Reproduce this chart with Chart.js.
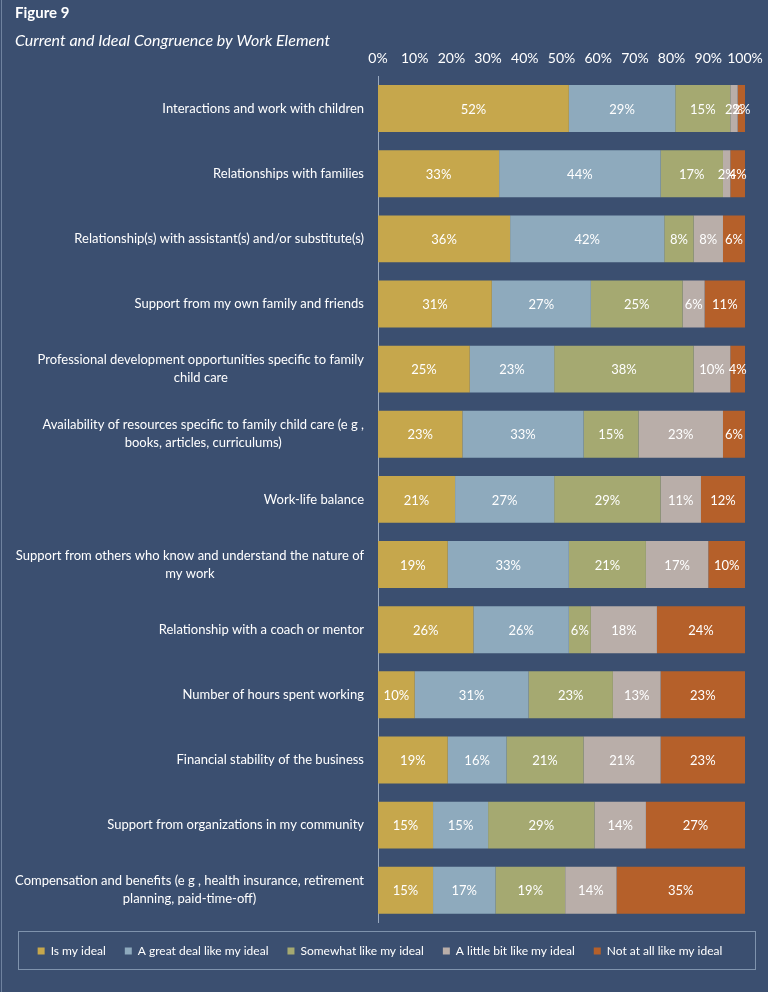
<!DOCTYPE html>
<html>
<head>
<meta charset="utf-8">
<script src="https://cdn.jsdelivr.net/npm/chart.js@4.4.1/dist/chart.umd.min.js"></script>
<style>
  body { margin: 0; background: #3b4f70; }
  canvas { display: block; }
</style>
</head>
<body>
<canvas id="myChart" width="768" height="992"></canvas>
<script>
const categories = [
    ["Interactions and work with children"],
    ["Relationships with families"],
    ["Relationship(s) with assistant(s) and/or substitute(s)"],
    ["Support from my own family and friends"],
    ["Professional development opportunities specific to family", "child care"],
    ["Availability of resources specific to family child care (e g ,", "books, articles, curriculums)"],
    ["Work-life balance"],
    ["Support from others who know and understand the nature of", "my work"],
    ["Relationship with a coach or mentor"],
    ["Number of hours spent working"],
    ["Financial stability of the business"],
    ["Support from organizations in my community"],
    ["Compensation and benefits (e g , health insurance, retirement", "planning, paid-time-off)"]
];

const isMyIdeal = [52, 33, 36, 31, 25, 23, 21, 19, 26, 10, 19, 15, 15];
const greatDeal = [29, 44, 42, 27, 23, 33, 27, 33, 26, 31, 16, 15, 17];
const somewhat = [15, 17, 8, 25, 38, 15, 29, 21, 6, 23, 21, 29, 19];
const littleBit = [2, 2, 8, 6, 10, 23, 11, 17, 18, 13, 21, 14, 14];
const notAtAll = [2, 4, 6, 11, 4, 6, 12, 10, 24, 23, 23, 27, 35];

const seriesNames = ["Is my ideal", "A great deal like my ideal", "Somewhat like my ideal",
    "A little bit like my ideal", "Not at all like my ideal"];
const seriesColors = ["#c6a74c", "#8eaabd", "#a5a971", "#b9aea9", "#b5602a"];

const xTicks = [0, 10, 20, 30, 40, 50, 60, 70, 80, 90, 100];

const textFont = "Lato, 'Open Sans', sans-serif";

// draws the % values inside each segment
const barLabels = {
    id: "barLabels",
    afterDatasetsDraw(chart) {
        const ctx = chart.ctx;
        ctx.save();
        ctx.font = "13px " + textFont;
        ctx.fillStyle = "#ffffff";
        ctx.textAlign = "center";
        ctx.textBaseline = "middle";
        chart.data.datasets.forEach((ds, i) => {
            const meta = chart.getDatasetMeta(i);
            meta.data.forEach((bar, j) => {
                const cx = (bar.x + bar.base) / 2;
                ctx.fillText(ds.data[j] + "%", cx, bar.y + 1);
            });
        });
        ctx.restore();
    }
};

// category labels: block right aligned, lines centred inside the block
const catLabels = {
    id: "catLabels",
    afterDraw(chart) {
        const ctx = chart.ctx;
        const y = chart.scales.y;
        const right = chart.chartArea.left - 14;
        ctx.save();
        ctx.font = "13px " + textFont;
        ctx.fillStyle = "#ffffff";
        ctx.textAlign = "center";
        ctx.textBaseline = "middle";
        categories.forEach((lines, i) => {
            const widths = lines.map(l => ctx.measureText(l).width);
            const w = Math.max(...widths);
            const cx = right - w / 2;
            const cy = y.getPixelForValue(i);
            const lh = 18;
            lines.forEach((l, k) => {
                ctx.fillText(l, cx, cy + (k - (lines.length - 1) / 2) * lh);
            });
        });

        // legend frame
        const hb = chart.legend.legendHitBoxes;
        if (hb && hb.length) {
            const mid = hb[0].top + hb[0].height / 2;
            ctx.strokeStyle = "#7f93ad";
            ctx.lineWidth = 1;
            ctx.strokeRect(18.5, Math.round(mid) - 19.5, 737, 38);
        }
        // thin outer edge on the left
        ctx.strokeStyle = "#6f829f";
        ctx.beginPath();
        ctx.moveTo(1.5, 0);
        ctx.lineTo(1.5, chart.height);
        ctx.stroke();
        ctx.restore();
    }
};

const bgPlugin = {
    id: "bg",
    beforeDraw(chart) {
        const ctx = chart.ctx;
        ctx.save();
        ctx.fillStyle = "#3b4f70";
        ctx.fillRect(0, 0, chart.width, chart.height);
        ctx.restore();
    }
};

const values = [isMyIdeal, greatDeal, somewhat, littleBit, notAtAll];

new Chart("myChart", {
    type: "bar",
    data: {
        labels: categories.map(c => c.join(" ")),
        datasets: values.map((v, i) => ({
            label: seriesNames[i],
            data: v,
            backgroundColor: seriesColors[i],
            borderWidth: 0,
            barPercentage: 0.72,
            categoryPercentage: 1
        }))
    },
    options: {
        indexAxis: "y",
        responsive: false,
        animation: false,
        layout: {padding: {left: 15, right: 23, top: 4, bottom: 25}},
        scales: {
            x: {
                position: "top",
                stacked: true,
                min: 0,
                max: 100,
                afterBuildTicks: scale => { scale.ticks = xTicks.map(v => ({value: v})); },
                afterFit: scale => {
                    scale.paddingLeft = 0;
                    scale.paddingRight = 0;
                    scale.height -= 9;
                },
                ticks: {
                    color: "#ffffff",
                    font: {family: textFont, size: 14},
                    padding: 9,
                    maxRotation: 0,
                    minRotation: 0,
                    autoSkip: false,
                    callback: v => v + "%"
                },
                grid: {display: false, drawTicks: false},
                border: {display: false}
            },
            y: {
                stacked: true,
                ticks: {display: false},
                grid: {display: false, drawTicks: false},
                border: {display: true, color: "#9aaac0", width: 1},
                afterFit: scale => { scale.width = 363; }
            }
        },
        plugins: {
            title: {
                display: true,
                text: "Figure 9",
                align: "start",
                color: "#ffffff",
                font: {family: textFont, size: 15, weight: "bold"},
                padding: {top: 0, bottom: 9}
            },
            subtitle: {
                display: true,
                text: "Current and Ideal Congruence by Work Element",
                align: "start",
                color: "#ffffff",
                font: {family: textFont, size: 16, style: "italic"},
                padding: {top: 0, bottom: 0}
            },
            legend: {
                position: "bottom",
                // empty title only used as a small gap above the legend row
                title: {display: true, text: "", font: {size: 1}, padding: {top: 2, bottom: 0}},
                labels: {
                    color: "#ffffff",
                    font: {family: textFont, size: 12},
                    boxWidth: 7,
                    boxHeight: 7,
                    padding: 19
                }
            },
            tooltip: {enabled: false}
        }
    },
    plugins: [bgPlugin, barLabels, catLabels]
});
</script>
</body>
</html>
